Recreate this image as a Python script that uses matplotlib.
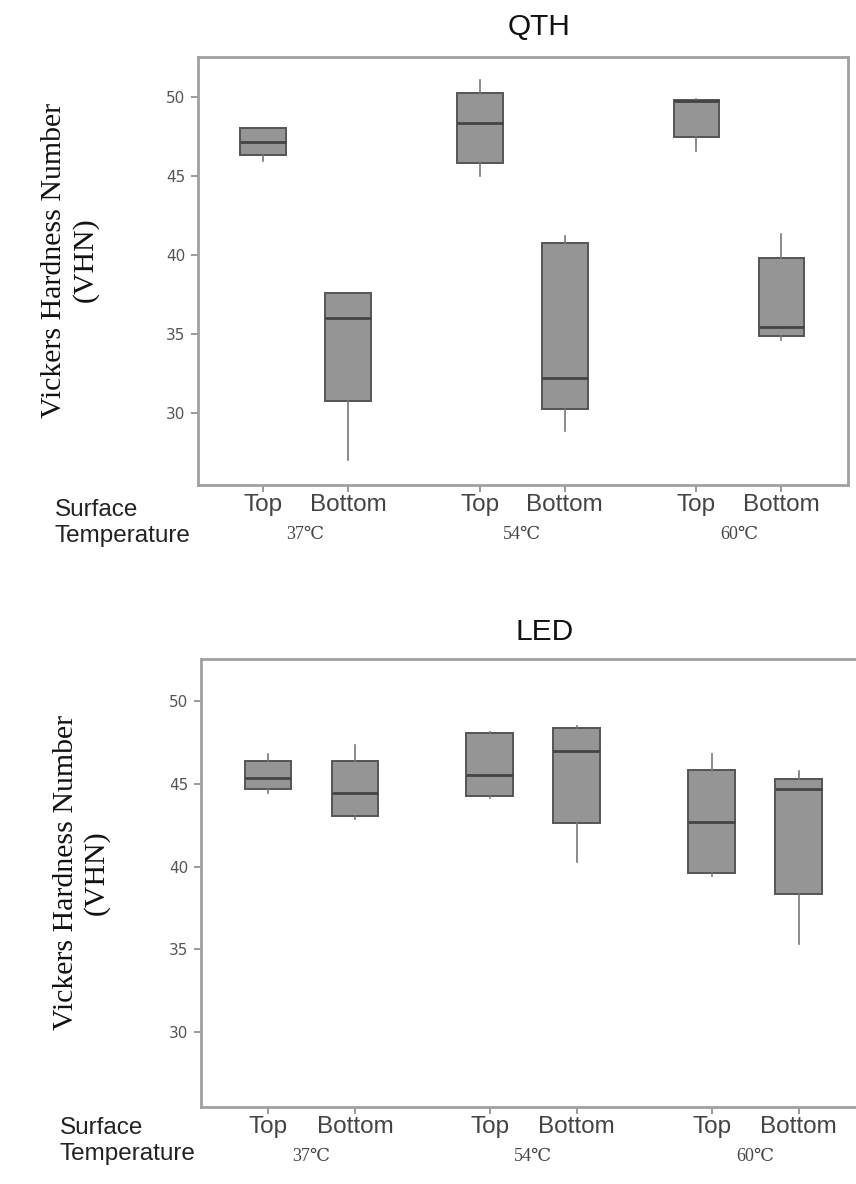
import matplotlib
matplotlib.use("Agg")
import matplotlib.pyplot as plt

# box statistics (Top/Bottom at 37, 54, 60 C)
groups = ["Top", "Bottom", "Top", "Bottom", "Top", "Bottom"]
temps = ["37\u2103", "54\u2103", "60\u2103"]
yticks = [30, 35, 40, 45, 50]

qth_whislo = [45.93, 27.04, 44.98, 28.88, 46.61, 34.64]
qth_q1 = [46.33, 30.80, 45.82, 30.27, 47.45, 34.92]
qth_med = [47.14, 36.04, 48.35, 32.24, 49.72, 35.48]
qth_q3 = [48.02, 37.61, 50.25, 40.75, 49.79, 39.82]
qth_whishi = [48.02, 37.61, 51.05, 41.22, 49.90, 41.37]

led_whislo = [44.46, 42.87, 44.16, 40.30, 39.45, 35.33]
led_q1 = [44.70, 43.07, 44.26, 42.65, 39.59, 38.35]
led_med = [45.33, 44.43, 45.53, 47.00, 42.73, 44.67]
led_q3 = [46.38, 46.36, 48.05, 48.41, 45.87, 45.27]
led_whishi = [46.84, 47.34, 48.15, 48.49, 46.84, 45.79]

W, H = 856, 1184
SANS = "Liberation Sans"
SERIF = "Liberation Serif"
TEMP_FONT = [SERIF, "DejaVu Serif", "DejaVu Sans", "Noto Sans CJK SC"]

positions = [g * 2.55 + k + 1 for g in range(3) for k in range(2)]
group_mid = [(positions[2 * g] + positions[2 * g + 1]) / 2 for g in range(3)]


def make_stats(lo, q1, med, q3, hi):
    return [dict(whislo=a, q1=b, med=c, q3=d, whishi=e, fliers=[])
            for a, b, c, d, e in zip(lo, q1, med, q3, hi)]


def draw_panel(ax, stats):
    ax.bxp(stats, positions=positions, widths=0.54, patch_artist=True,
           showcaps=False, showfliers=False,
           boxprops=dict(facecolor="#959595", edgecolor="#555555", linewidth=1.4),
           medianprops=dict(color="#444444", linewidth=2.0),
           whiskerprops=dict(color="#777777", linewidth=1.2))
    ax.set_xlim(0.23, 7.877)
    ax.set_ylim(25.5, 52.55)
    ax.set_yticks(yticks)
    ax.set_yticklabels([str(t) for t in yticks], fontfamily="DejaVu Sans",
                       fontsize=11, color="#555555")
    ax.set_xticks(positions)
    ax.set_xticklabels(groups, fontfamily=SANS, fontsize=17.5, color="#444444")
    ax.tick_params(axis="y", length=5, width=1.2, color="#888888", pad=4)
    ax.tick_params(axis="x", length=5, width=1.2, color="#888888", pad=2)
    for s in ax.spines.values():
        s.set_color("#a0a0a0")
        s.set_linewidth(2)
    for x, t in zip(group_mid, temps):
        ax.annotate(t, xy=(x, 0), xycoords=("data", "axes fraction"),
                    xytext=(0, -36), textcoords="offset points",
                    ha="center", va="center", family=TEMP_FONT,
                    fontsize=13, color="#444444")


fig = plt.figure(figsize=(W / 100, H / 100), dpi=100)

# QTH panel
ax1 = fig.add_axes([197.6 / W, 1 - 484.5 / H, 649.9 / W, 427.8 / H])
draw_panel(ax1, make_stats(qth_whislo, qth_q1, qth_med, qth_q3, qth_whishi))
fig.text(539.5 / W, 1 - 27 / H, "QTH", ha="center", va="center",
         fontfamily=SANS, fontsize=21.5, color="#111111")
fig.text(70 / W, 1 - 260 / H, "Vickers Hardness Number\n(VHN)", rotation=90,
         ha="center", va="center", multialignment="center",
         fontfamily=SERIF, fontsize=21.5, color="#111111")
fig.text(55 / W, 1 - 522.7 / H, "Surface\nTemperature", ha="left", va="center",
         linespacing=1.25, fontfamily=SANS, fontsize=17.5, color="#222222")

# LED panel
ax2 = fig.add_axes([201 / W, 1 - 1106.7 / H, 665.3 / W, 447.7 / H])
draw_panel(ax2, make_stats(led_whislo, led_q1, led_med, led_q3, led_whishi))
fig.text(545 / W, 1 - 631.7 / H, "LED", ha="center", va="center",
         fontfamily=SANS, fontsize=21.5, color="#111111")
fig.text(81.5 / W, 1 - 872.5 / H, "Vickers Hardness Number\n(VHN)", rotation=90,
         ha="center", va="center", multialignment="center",
         fontfamily=SERIF, fontsize=21.5, color="#111111")
fig.text(60 / W, 1 - 1141 / H, "Surface\nTemperature", ha="left", va="center",
         linespacing=1.25, fontfamily=SANS, fontsize=17.5, color="#222222")

fig.savefig("out.png", dpi=100)
